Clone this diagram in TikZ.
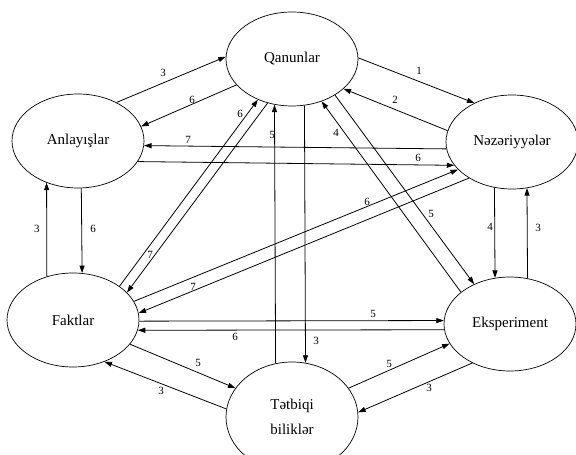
\documentclass[tikz,border=0pt]{standalone}
\usepackage{fontspec}
\setmainfont{Liberation Serif}
\usetikzlibrary{shapes.geometric,arrows.meta}
\begin{document}
\begin{tikzpicture}[x=1pt,y=-1pt,
  ell/.style={draw, ellipse, minimum width=132pt, minimum height=94pt, inner sep=0pt, line width=0.7pt, font=\fontsize{15}{17}\selectfont},
  con/.style={-{Triangle[length=7.5pt,width=5pt]}, line width=0.8pt},
  lab/.style={font=\fontsize{11}{11}\selectfont, inner sep=0pt}]
\useasboundingbox (0,0) rectangle (576,455);
\clip (0,0) rectangle (576,455);
% nodes
\node[ell] (Q) at (292,59) {Qanunlar};
\node[ell] (N) at (512,142) {Nəzəriyyələr};
\node[ell] (A) at (78,141) {Anlayışlar};
\node[ell] (F) at (73,320) {Faktlar};
\node[ell] (E) at (510,324) {Eksperiment};
\node[ell, minimum height=110pt, align=center] (T) at (292,417) {Tətbiqi\\[8pt]biliklər};
% connectors
\draw[con] (A.45.7) -- (Q.178.3);
\draw[con] (Q.205.7) -- (A.13.8);
\draw[con] (Q.1.7) -- (N.134.3);
\draw[con] (N.170.2) -- (Q.330.9);
\draw[con] (N.186.9) -- (A.356.7);
\draw[con] (A.341.8) -- (N.202.7);
\draw[con] (F.36.7) -- (Q.230.9);
\draw[con] (Q.241.9) -- (F.27.4);
\draw[con] (T.107.8) -- (Q.249.5);
\draw[con] (Q.285.75) -- (T.76.4);
\draw[con] (E.147.6) -- (Q.305.8);
\draw[con] (Q.320.7) -- (E.132.9);
\draw[con] (N.249.5) -- (E.108.1);
\draw[con] (E.69.5) -- (N.288.1);
\draw[con] (F.17.4) -- (N.207.8);
\draw[con] (N.220) -- (F.6.6);
\draw[con] (F.359.1) -- (E.177.4);
\draw[con] (E.185.2) -- (F.351.2);
\draw[con] (F.337.4) -- (T.153);
\draw[con] (T.173.1) -- (F.307.9);
\draw[con] (T.27.8) -- (E.198.2);
\draw[con] (E.226.4) -- (T.4.1);
\draw[con] (A.274.9) -- (F.79.1);
\draw[con] (F.121) -- (A.233.2);
% labels
\node[lab] (l1) at (163,73) {3};
\node[lab] (l2) at (192,100) {6};
\node[lab] (l3) at (419,71) {1};
\node[lab] (l4) at (395,100) {2};
\node[lab] (l5) at (188,140) {7};
\node[lab] (l6) at (418,158) {6};
\node[lab] (l7) at (240,114) {6};
\node[lab] (l8) at (150,255) {7};
\node[lab] (l9) at (272,135) {5};
\node[lab] (l10) at (316,341) {3};
\node[lab] (l11) at (336,133) {4};
\node[lab] (l12) at (431,214) {5};
\node[lab] (l13) at (490,227) {4};
\node[lab] (l14) at (538,228) {3};
\node[lab] (l15) at (367,202) {6};
\node[lab] (l16) at (193,287) {7};
\node[lab] (l17) at (373,314) {5};
\node[lab] (l18) at (235,337) {6};
\node[lab] (l19) at (198,363) {5};
\node[lab] (l20) at (161,391) {3};
\node[lab] (l21) at (389,364) {5};
\node[lab] (l22) at (429,388) {3};
\node[lab] (l23) at (93,229) {6};
\node[lab] (l24) at (37,229) {3};
\end{tikzpicture}
\end{document}
